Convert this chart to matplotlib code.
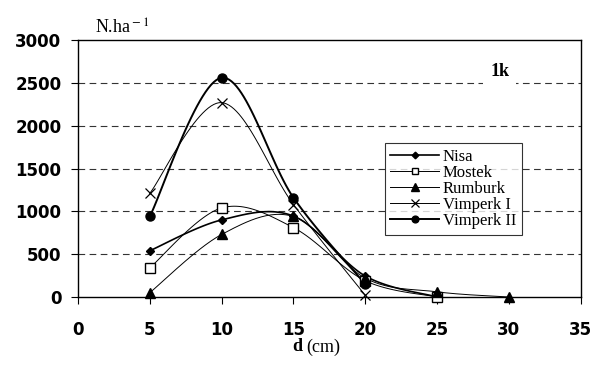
import matplotlib
matplotlib.use("Agg")
from matplotlib import pyplot as plt
import numpy as np

# diameter classes (cm) and stem counts per ha
d_nisa = [5, 10, 15, 20, 25]
n_nisa = [540, 900, 945, 245, 0]

d_mostek = [5, 10, 15, 20, 25]
n_mostek = [340, 1040, 810, 190, 0]

d_rumburk = [5, 10, 15, 20, 25, 30]
n_rumburk = [50, 730, 940, 220, 60, 0]

d_vimp1 = [5, 10, 15, 20]
n_vimp1 = [1210, 2270, 1080, 20]

d_vimp2 = [5, 10, 15, 20]
n_vimp2 = [940, 2560, 1160, 150]

names = ["Nisa", "Mostek", "Rumburk", "Vimperk I", "Vimperk II"]
x_ticks = [0, 5, 10, 15, 20, 25, 30, 35]
y_ticks = [0, 500, 1000, 1500, 2000, 2500, 3000]


def smooth(x, y, n=30):
    # excel-like smoothed line: bezier segments through the points
    x = np.asarray(x, float)
    y = np.asarray(y, float)
    px = np.concatenate([[x[0]], x, [x[-1]]])
    py = np.concatenate([[y[0]], y, [y[-1]]])
    xs, ys = [], []
    t = np.linspace(0, 1, n)
    for i in range(1, len(px) - 2):
        p0 = np.array([px[i], py[i]])
        p3 = np.array([px[i + 1], py[i + 1]])
        c1 = p0 + (np.array([px[i + 1], py[i + 1]]) - np.array([px[i - 1], py[i - 1]])) / 6
        c2 = p3 - (np.array([px[i + 2], py[i + 2]]) - np.array([px[i], py[i]])) / 6
        b = ((1 - t) ** 3)[:, None] * p0 + (3 * (1 - t) ** 2 * t)[:, None] * c1 \
            + (3 * (1 - t) * t ** 2)[:, None] * c2 + (t ** 3)[:, None] * p3
        xs.extend(b[:, 0])
        ys.extend(b[:, 1])
    return xs, ys


fig = plt.figure(figsize=(5.95, 3.68), dpi=100)
ax = fig.add_axes([0.131, 0.193, 0.845, 0.698])

series = [
    (d_nisa, n_nisa, dict(marker="D", ms=4.5, mfc="black"), 1.2),
    (d_mostek, n_mostek, dict(marker="s", ms=6.5, mfc="white"), 0.7),
    (d_rumburk, n_rumburk, dict(marker="^", ms=7, mfc="black"), 0.7),
    (d_vimp1, n_vimp1, dict(marker="x", ms=7, mew=0.9), 0.7),
    (d_vimp2, n_vimp2, dict(marker="o", ms=6.5, mfc="black"), 1.4),
]

handles = []
for (xx, yy, mk, lw), name in zip(series, names):
    sx, sy = smooth(xx, yy)
    ax.plot(sx, sy, color="black", lw=lw, zorder=3)
    ax.plot(xx, yy, ls="none", color="black", mec="black", zorder=4, clip_on=False, **mk)
    h, = ax.plot([], [], color="black", lw=lw, mec="black", **mk)
    handles.append(h)

ax.set_xlim(0, 35)
ax.set_ylim(0, 3000)
ax.set_xticks(x_ticks)
ax.set_yticks(y_ticks)
ax.set_xticklabels([str(v) for v in x_ticks], fontfamily="DejaVu Sans",
                   fontweight="bold", fontsize=12)
ax.set_yticklabels([str(v) for v in y_ticks], fontfamily="DejaVu Sans",
                   fontweight="bold", fontsize=12)
ax.tick_params(direction="out", length=5, width=0.8)
ax.tick_params(axis="x", pad=12)
ax.tick_params(axis="y", pad=7)

for yv in y_ticks[1:-1]:
    ax.axhline(yv, color="#333333", lw=0.8, ls=(0, (6, 4)), zorder=1)
for s in ax.spines.values():
    s.set_linewidth(1.0)

ax.text(1.2, 3070, "N.ha$^{\\rm -1}$", fontsize=13, family="Liberation Serif",
        math_fontfamily="stix")
ax.text(28.7, 2580, "1k", fontsize=13, family="Liberation Serif", fontweight="bold",
        bbox=dict(fc="white", ec="none", pad=5), zorder=2)

fig.text(0.508, 0.045, "d", fontsize=13, family="Liberation Serif", fontweight="bold", ha="right")
fig.text(0.515, 0.045, "(cm)", fontsize=13, family="Liberation Serif", ha="left")

leg = ax.legend(handles, names, loc="upper left", bbox_to_anchor=(0.610, 0.599),
                prop=dict(family="Liberation Serif", size=12), frameon=True,
                fancybox=False, edgecolor="black", handlelength=2.9,
                handletextpad=0.25, labelspacing=0.0, borderpad=0.35,
                borderaxespad=0, markerscale=0.75)
leg.get_frame().set_linewidth(0.8)

fig.savefig("out.png", dpi=100)
